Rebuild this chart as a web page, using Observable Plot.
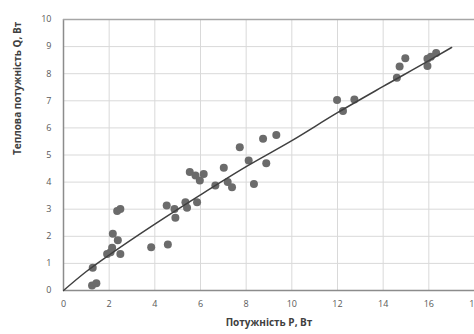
<!DOCTYPE html>
<html>
<head>
<meta charset="utf-8">
<script src="https://cdn.jsdelivr.net/npm/d3@7"></script>
<script src="https://cdn.jsdelivr.net/npm/@observablehq/plot@0.6"></script>
<style>
  html, body { margin: 0; padding: 0; background: #fff; }
  #chart { width: 474px; height: 334px; overflow: hidden; }
</style>
</head>
<body>
<div id="chart"></div>
<script>
// Measured points: power P (W) and heat power Q (W)
const pointsP = [1.25, 1.44, 1.28, 1.91, 2.06, 2.13, 2.49, 2.16, 2.38, 2.35, 2.49, 3.84, 4.57, 4.52,
  4.86, 4.90, 5.34, 5.41, 5.85, 5.53, 5.78, 5.97, 6.14, 6.65, 7.02, 7.19, 7.38, 7.72, 8.11, 8.34,
  8.74, 8.88, 9.32, 11.98, 12.24, 12.74, 14.60, 14.72, 14.97, 15.94, 15.94, 16.09, 16.32];
const pointsQ = [0.18, 0.27, 0.84, 1.35, 1.41, 1.58, 1.35, 2.09, 1.85, 2.93, 3.01, 1.60, 1.70, 3.14,
  3.01, 2.68, 3.26, 3.05, 3.26, 4.37, 4.24, 4.06, 4.30, 3.87, 4.53, 4.00, 3.81, 5.29, 4.80, 3.93,
  5.60, 4.70, 5.74, 7.03, 6.62, 7.05, 7.85, 8.27, 8.57, 8.28, 8.55, 8.63, 8.76];
// Trend line
const trendP = [0, 1, 2, 4, 6, 8, 10, 12, 14, 16, 17];
const trendQ = [0, 0.70, 1.31, 2.45, 3.53, 4.57, 5.53, 6.56, 7.53, 8.48, 8.97];
const xTicks = [0, 2, 4, 6, 8, 10, 12, 14, 16, 18];
const yTicks = [0, 1, 2, 3, 4, 5, 6, 7, 8, 9, 10];
const xTitle = "Потужність P, Вт";
const yTitle = "Теплова потужність Q, Вт";

const points = pointsP.map((p, i) => ({p, q: pointsQ[i]}));
const trend = trendP.map((p, i) => ({p, q: trendQ[i]}));

const chart = Plot.plot({
  width: 474,
  height: 334,
  marginLeft: 63,
  marginRight: 0,
  marginTop: 19,
  marginBottom: 44,
  style: {fontFamily: "'Open Sans', 'Liberation Sans', sans-serif", fontSize: "9px", background: "#fff", overflow: "visible"},
  x: {domain: [0, 18], ticks: xTicks, tickSize: 0, tickPadding: 10, label: null},
  y: {domain: [0, 10], ticks: yTicks, tickSize: 0, tickPadding: 12, label: null},
  marks: [
    Plot.gridX(xTicks, {stroke: "#d9d9d9", strokeOpacity: 1, strokeWidth: 1}),
    Plot.gridY(yTicks, {stroke: "#d9d9d9", strokeOpacity: 1, strokeWidth: 1}),
    Plot.ruleX([0], {stroke: "#8c8c8c", strokeWidth: 1.5}),
    Plot.ruleY([0], {stroke: "#8c8c8c", strokeWidth: 1.5}),
    Plot.ruleY([10], {stroke: "#a6a6a6", strokeWidth: 1.5}),
    Plot.axisX({ticks: xTicks, tickSize: 0, tickPadding: 10, fill: "#595959", fontSize: 9, label: null}),
    Plot.axisY({ticks: yTicks, tickSize: 0, tickPadding: 12, fill: "#595959", fontSize: 9, label: null}),
    Plot.dot(points, {x: "p", y: "q", r: 4, fill: "#6b6b6b", stroke: "none"}),
    Plot.line(trend, {x: "p", y: "q", stroke: "#404040", strokeWidth: 1.5, curve: "monotone-x"}),
    Plot.text([xTitle], {frameAnchor: "bottom", dy: 35, fontWeight: "bold", fontSize: 10, fill: "#404040"}),
    Plot.text([yTitle], {frameAnchor: "left", dx: -46, rotate: -90, fontWeight: "bold", fontSize: 10, fill: "#404040"})
  ]
});
document.getElementById("chart").appendChild(chart);
</script>
</body>
</html>
